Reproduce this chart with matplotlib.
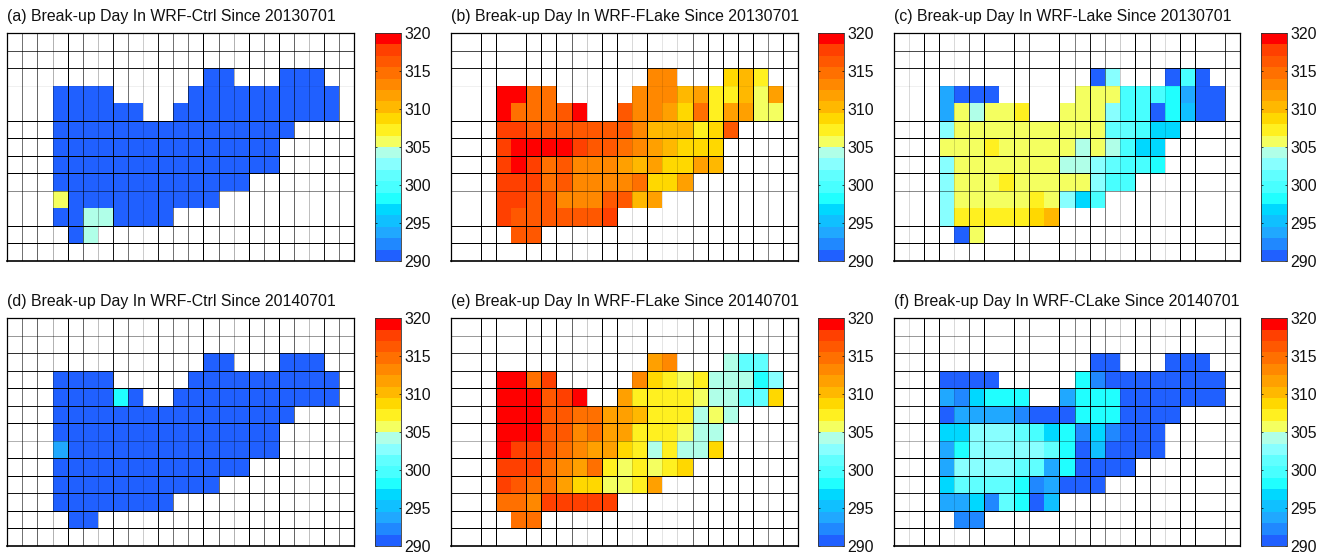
import numpy as np
import matplotlib
matplotlib.use("Agg")
import matplotlib.pyplot as plt
from matplotlib.colors import ListedColormap, BoundaryNorm

plt.rcParams['font.family'] = ['Liberation Sans', 'DejaVu Sans']

_ = np.nan
EMPTY = [_] * 23

titles = [
    "(a) Break-up Day In WRF-Ctrl Since 20130701",
    "(b) Break-up Day In WRF-FLake Since 20130701",
    "(c) Break-up Day In WRF-Lake Since 20130701",
    "(d) Break-up Day In WRF-Ctrl Since 20140701",
    "(e) Break-up Day In WRF-FLake Since 20140701",
    "(f) Break-up Day In WRF-CLake Since 20140701",
]

ctrl_2013 = [
    EMPTY, EMPTY,
    [_,_,_,_,_,_,_,_,_,_,_,_,_,291,291,_,_,_,291,291,291,_,_],
    [_,_,_,291,291,291,291,_,_,_,_,_,291,291,291,291,291,291,291,291,291,291,_],
    [_,_,_,291,291,291,291,291,291,_,_,291,291,291,291,291,291,291,291,291,291,291,_],
    [_,_,_,291,291,291,291,291,291,291,291,291,291,291,291,291,291,291,291,_,_,_,_],
    [_,_,_,291,291,291,291,291,291,291,291,291,291,291,291,291,291,291,_,_,_,_,_],
    [_,_,_,291,291,291,291,291,291,291,291,291,291,291,291,291,291,291,_,_,_,_,_],
    [_,_,_,291,291,291,291,291,291,291,291,291,291,291,291,291,_,_,_,_,_,_,_],
    [_,_,_,306,291,291,291,291,291,291,291,291,291,291,_,_,_,_,_,_,_,_,_],
    [_,_,_,291,291,304,304,291,291,291,291,_,_,_,_,_,_,_,_,_,_,_,_],
    [_,_,_,_,291,304,_,_,_,_,_,_,_,_,_,_,_,_,_,_,_,_,_],
    EMPTY,
]

flake_2013 = [
    EMPTY, EMPTY,
    [_,_,_,_,_,_,_,_,_,_,_,_,_,313,313,_,_,_,309,310,307,_,_],
    [_,_,_,319,319,315,315,_,_,_,_,_,313,313,313,310,312,307,307,310,306,312,_],
    [_,_,_,319,315,315,315,316,319,_,_,316,313,313,312,309,315,307,312,312,306,306,_],
    [_,_,_,318,318,316,316,316,316,316,316,316,313,310,310,310,307,309,316,_,_,_,_],
    [_,_,_,318,319,319,319,319,318,316,316,315,313,312,310,309,309,309,_,_,_,_,_],
    [_,_,_,318,319,318,315,316,313,313,313,312,310,312,309,309,312,310,_,_,_,_,_],
    [_,_,_,318,318,318,315,316,313,313,313,313,315,309,309,312,_,_,_,_,_,_,_],
    [_,_,_,318,318,316,316,313,313,313,316,316,310,312,_,_,_,_,_,_,_,_,_],
    [_,_,_,318,316,316,316,316,316,316,318,_,_,_,_,_,_,_,_,_,_,_,_],
    [_,_,_,_,316,316,_,_,_,_,_,_,_,_,_,_,_,_,_,_,_,_,_],
    EMPTY,
]

lake_2013 = [
    EMPTY, EMPTY,
    [_,_,_,_,_,_,_,_,_,_,_,_,_,291,303,_,_,_,291,300,291,_,_],
    [_,_,_,294,291,291,291,_,_,_,_,_,306,306,306,300,300,300,298,294,291,291,_],
    [_,_,_,294,306,304,306,306,307,_,_,306,306,306,303,300,300,291,298,295,291,291,_],
    [_,_,_,303,306,306,306,306,306,306,306,306,306,306,301,301,300,297,297,_,_,_,_],
    [_,_,_,306,306,306,307,306,306,306,306,306,304,306,304,300,297,297,_,_,_,_,_],
    [_,_,_,303,306,306,306,306,306,306,306,304,304,303,301,300,300,298,_,_,_,_,_],
    [_,_,_,303,306,306,306,307,306,306,306,306,306,303,300,300,_,_,_,_,_,_,_],
    [_,_,_,303,306,306,306,306,306,307,306,303,297,300,_,_,_,_,_,_,_,_,_],
    [_,_,_,303,307,307,307,307,307,309,310,_,_,_,_,_,_,_,_,_,_,_,_],
    [_,_,_,_,291,306,_,_,_,_,_,_,_,_,_,_,_,_,_,_,_,_,_],
    EMPTY,
]

ctrl_2014 = [
    EMPTY, EMPTY,
    [_,_,_,_,_,_,_,_,_,_,_,_,_,291,291,_,_,_,291,291,291,_,_],
    [_,_,_,291,291,291,291,_,_,_,_,_,291,291,291,291,291,291,291,291,291,291,_],
    [_,_,_,291,291,291,291,298,291,_,_,291,291,291,291,291,291,291,291,291,291,291,_],
    [_,_,_,291,291,291,291,291,291,291,291,291,291,291,291,291,291,291,291,_,_,_,_],
    [_,_,_,291,291,291,291,291,291,291,291,291,291,291,291,291,291,291,_,_,_,_,_],
    [_,_,_,294,291,291,291,291,291,291,291,291,291,291,291,291,291,291,_,_,_,_,_],
    [_,_,_,291,291,291,291,291,291,291,291,291,291,291,291,291,_,_,_,_,_,_,_],
    [_,_,_,291,291,291,291,291,291,291,291,291,291,291,_,_,_,_,_,_,_,_,_],
    [_,_,_,291,291,291,291,291,291,291,291,_,_,_,_,_,_,_,_,_,_,_,_],
    [_,_,_,_,291,291,_,_,_,_,_,_,_,_,_,_,_,_,_,_,_,_,_],
    EMPTY,
]

flake_2014 = [
    EMPTY, EMPTY,
    [_,_,_,_,_,_,_,_,_,_,_,_,_,312,313,_,_,_,304,301,301,_,_],
    [_,_,_,319,319,315,318,_,_,_,_,_,313,309,307,306,307,304,304,304,298,303,_],
    [_,_,_,319,319,319,316,318,319,_,_,312,307,307,307,307,306,304,304,301,301,309,_],
    [_,_,_,319,319,319,316,316,315,315,312,312,310,307,307,307,304,306,304,_,_,_,_],
    [_,_,_,319,319,319,316,316,313,315,312,312,307,307,307,306,304,304,_,_,_,_,_],
    [_,_,_,319,318,318,316,315,313,312,312,309,307,304,307,304,304,309,_,_,_,_,_],
    [_,_,_,318,318,318,315,313,312,315,307,306,307,306,307,309,_,_,_,_,_,_,_],
    [_,_,_,318,316,315,315,312,309,309,306,306,307,312,_,_,_,_,_,_,_,_,_],
    [_,_,_,315,315,313,318,318,318,318,318,_,_,_,_,_,_,_,_,_,_,_,_],
    [_,_,_,_,315,315,_,_,_,_,_,_,_,_,_,_,_,_,_,_,_,_,_],
    EMPTY,
]

clake_2014 = [
    EMPTY, EMPTY,
    [_,_,_,_,_,_,_,_,_,_,_,_,_,291,291,_,_,_,291,291,291,_,_],
    [_,_,_,291,291,291,291,_,_,_,_,_,298,292,291,291,291,291,291,291,291,291,_],
    [_,_,_,294,292,297,298,298,298,_,_,294,298,298,298,291,291,291,291,291,291,291,_],
    [_,_,_,291,294,294,294,294,292,291,291,291,298,298,298,291,291,291,291,_,_,_,_],
    [_,_,_,297,297,303,303,303,301,300,297,298,292,297,292,291,291,291,_,_,_,_,_],
    [_,_,_,294,298,303,303,303,303,303,301,298,291,295,291,291,291,291,_,_,_,_,_],
    [_,_,_,294,303,303,303,303,301,301,294,298,291,291,291,291,_,_,_,_,_,_,_],
    [_,_,_,297,301,301,301,301,298,292,294,291,291,291,_,_,_,_,_,_,_,_,_],
    [_,_,_,294,294,297,292,301,298,291,295,_,_,_,_,_,_,_,_,_,_,_,_],
    [_,_,_,_,292,292,_,_,_,_,_,_,_,_,_,_,_,_,_,_,_,_,_],
    EMPTY,
]

panels = [ctrl_2013, flake_2013, lake_2013, ctrl_2014, flake_2014, clake_2014]

levels = np.arange(290, 320.01, 1.5)
tick_values = [290, 295, 300, 305, 310, 315, 320]
colors = ['#2060ff', '#2088ff', '#20a8ff', '#10c0ff', '#00d8ff',
          '#20ffff', '#48ffff', '#60ffff', '#88ffff', '#b0ffe8',
          '#f4ff60', '#fff020', '#ffd800', '#ffb800', '#ffa000',
          '#ff8800', '#ff7000', '#ff5800', '#ff4000', '#ff0000']
cmap = ListedColormap(colors)
norm = BoundaryNorm(levels, cmap.N)

W, H = 1331, 557
axes_x = [(7.3, 354.3), (450.7, 798.3), (894, 1240)]
axes_y = [(33, 261), (318.3, 546)]
cbar_x = [(374.7, 401), (818.3, 844), (1260.7, 1287)]

# resampling in the source makes individual grid lines lighter or absent
v_alpha = [
    [.55, .6, .3, 1, .6, .25, .9, .55, .2, .9, .55, .55, 1, .6, .3, 1, .6, 1, .6, .25, .9, .55],
    [0, 1, 1, 0, 1, 1, 1, .6, .2, 1, 1, .15, 1, .1, .15, .6, 1, 1, 1, 1, .5, 1],
    [.15, 1, 1, .15, .7, 1, 0, 1, .8, 0, 1, .5, .9, .5, .2, 1, .8, .15, 1, 1, 0, .8],
]
h_alpha = [
    [.7, .9, .06, 0, 1, 1, 1, 1, .45, 0, 1, 1],
    [.4, .8, .9, 1, .9, 1, .3, 1, 1, .9, 1, 1],
]


def rect(x0, x1, y0, y1):
    return [x0 / W, 1 - y1 / H, (x1 - x0) / W, (y1 - y0) / H]


fig = plt.figure(figsize=(W / 100, H / 100), dpi=100, facecolor='white')
lw = 0.72

for i, (data, title) in enumerate(zip(panels, titles)):
    c, r = i % 3, i // 3
    ax = fig.add_axes(rect(*axes_x[c], *axes_y[r]))
    arr = np.ma.masked_invalid(np.array(data, dtype=float))
    mesh = ax.pcolormesh(np.arange(24), np.arange(14), arr, cmap=cmap, norm=norm)
    ax.set_xlim(0, 23)
    ax.set_ylim(13, 0)
    ax.set_xticks([])
    ax.set_yticks([])
    for k, a in enumerate(v_alpha[c]):
        if a > 0:
            ax.axvline(k + 1, color='black', lw=lw, alpha=a, zorder=3)
    for k, a in enumerate(h_alpha[r]):
        if a > 0:
            ax.axhline(k + 1, color='black', lw=lw, alpha=a, zorder=3)
    for s in ax.spines.values():
        s.set_linewidth(0.9)
        s.set_color('black')
    ax.spines['bottom'].set_linewidth(1.2)
    fig.text(axes_x[c][0] / W, 1 - 16 / H if r == 0 else 1 - 301.5 / H, title,
             fontsize=11.47, color='#111111', ha='left', va='center')

    cax = fig.add_axes(rect(*cbar_x[c], *axes_y[r]))
    cb = fig.colorbar(mesh, cax=cax, ticks=tick_values, spacing='proportional')
    cb.ax.minorticks_off()
    cb.ax.tick_params(axis='y', direction='in', length=1.5, width=0.5, pad=2.4,
                      labelsize=11.4, labelcolor='#111111', left=True, right=True)
    cb.ax.set_yticklabels([str(t) for t in tick_values])
    cb.outline.set_linewidth(0.6)
    cb.outline.set_edgecolor('#333333')

fig.savefig('out.png', dpi=100, facecolor='white')
